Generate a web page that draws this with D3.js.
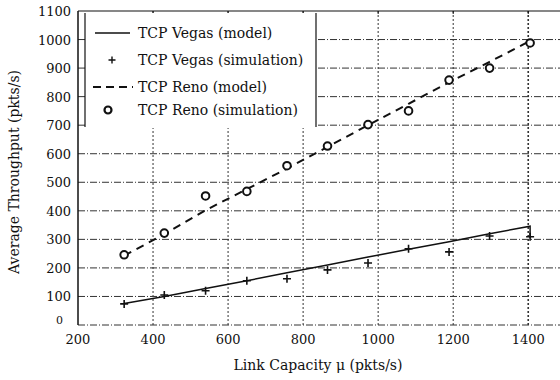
<!DOCTYPE html>
<html>
<head>
<meta charset="utf-8">
<script src="https://cdn.jsdelivr.net/npm/d3@7"></script>
<style>
  body { margin: 0; background: #fff; }
  svg text { font-family: "DejaVu Serif", "Liberation Serif", serif; fill: #111; }
</style>
</head>
<body>
<svg id="chart" width="560" height="380"></svg>
<script>
// link capacity (pkts/s) at each simulation point
const capacity = [323, 430, 540, 650, 757, 865, 973, 1081, 1189, 1297, 1405];
const vegasSim = [74, 105, 120, 155, 162, 193, 217, 267, 256, 312, 309];
const renoSim = [246, 322, 452, 468, 558, 627, 702, 750, 858, 900, 988];
// model curves (vegas drops back at the right end)
const vegasModelX = [323, 430, 540, 650, 757, 865, 973, 1081, 1189, 1297, 1405, 1405];
const vegasModelY = [75, 100, 128, 155, 183, 210, 238, 265, 292, 320, 346, 305];
const renoModel = [243, 318, 402, 476, 548, 624, 700, 775, 850, 922, 995];
const xTicks = [200, 400, 600, 800, 1000, 1200, 1400];
const yTicks = [0, 100, 200, 300, 400, 500, 600, 700, 800, 900, 1000, 1100];
const legendItems = ['TCP Vegas (model)', 'TCP Vegas (simulation)', 'TCP Reno (model)', 'TCP Reno (simulation)'];

const margin = { top: 11, right: 0, bottom: 54, left: 78 };
const svg = d3.select('#chart');

const x = d3.scaleLinear().domain([200, 1490]).range([margin.left, 562]);
const y = d3.scaleLinear().domain([0, 1100]).range([325, margin.top]);

// grid
const grid = svg.append('g').attr('stroke', '#333').attr('stroke-width', 1).attr('fill', 'none');
grid.selectAll('.hg').data(yTicks.slice(0, -1)).join('line')
  .attr('x1', x(200)).attr('x2', 560)
  .attr('y1', d => y(d)).attr('y2', d => y(d))
  .attr('stroke-dasharray', '7,2,1,2');
grid.selectAll('.vg').data(xTicks.slice(1)).join('line')
  .attr('x1', d => x(d)).attr('x2', d => x(d))
  .attr('y1', y(0)).attr('y2', y(1100))
  .attr('stroke-dasharray', '2,2')
  .attr('stroke-width', d => d === 1400 ? 1.6 : 1);

// frame: left axis and top line
svg.append('line').attr('x1', x(200)).attr('x2', x(200)).attr('y1', y(0)).attr('y2', y(1100))
  .attr('stroke', '#111').attr('stroke-width', 1.5);
svg.append('line').attr('x1', x(200)).attr('x2', 560).attr('y1', y(1100)).attr('y2', y(1100))
  .attr('stroke', '#111').attr('stroke-width', 1.2);
svg.selectAll('.tt').data(xTicks.slice(1)).join('line')
  .attr('x1', d => x(d)).attr('x2', d => x(d)).attr('y1', y(1100)).attr('y2', y(1100) + 3)
  .attr('stroke', '#111');

// tick labels
svg.selectAll('.yl').data(yTicks.filter(d => d > 0)).join('text')
  .attr('x', 71).attr('y', d => y(d) + 5)
  .attr('text-anchor', 'end').attr('font-size', 13)
  .text(d => d);
svg.append('text').attr('x', 56).attr('y', 324).attr('font-size', 11).text('0');
svg.selectAll('.xl').data(xTicks).join('text')
  .attr('x', d => x(d)).attr('y', 344)
  .attr('text-anchor', 'middle').attr('font-size', 13)
  .text(d => d);

// axis titles
svg.append('text').attr('x', 318).attr('y', 370).attr('text-anchor', 'middle')
  .attr('font-size', 14).text('Link Capacity \u03bc (pkts/s)');
svg.append('text').attr('transform', 'translate(19,172) rotate(-90)')
  .attr('text-anchor', 'middle').attr('font-size', 14).text('Average Throughput (pkts/s)');

// series
const line = d3.line().x(d => x(d[0])).y(d => y(d[1]));
svg.append('path')
  .datum(d3.zip(vegasModelX, vegasModelY))
  .attr('d', line).attr('fill', 'none').attr('stroke', '#111').attr('stroke-width', 1.5);
svg.append('path')
  .datum(d3.zip(capacity, renoModel))
  .attr('d', line).attr('fill', 'none').attr('stroke', '#111').attr('stroke-width', 2)
  .attr('stroke-dasharray', '8,6');

svg.selectAll('.vs').data(d3.zip(capacity, vegasSim)).join('path')
  .attr('d', 'M-4,0H4M0,-4V4')
  .attr('transform', d => `translate(${x(d[0])},${y(d[1])})`)
  .attr('stroke', '#111').attr('stroke-width', 1.6);
svg.selectAll('.rs').data(d3.zip(capacity, renoSim)).join('circle')
  .attr('cx', d => x(d[0])).attr('cy', d => y(d[1])).attr('r', 3.8)
  .attr('fill', '#fff').attr('stroke', '#111').attr('stroke-width', 2);

// legend
const lg = svg.append('g');
lg.append('rect').attr('x', 85).attr('y', 13).attr('width', 231).attr('height', 115).attr('fill', '#fff');
lg.append('line').attr('x1', 85).attr('x2', 85).attr('y1', 13).attr('y2', 127).attr('stroke', '#111').attr('stroke-width', 1.2);
lg.append('line').attr('x1', 316).attr('x2', 316).attr('y1', 13).attr('y2', 127).attr('stroke', '#111').attr('stroke-width', 1.2);
const rowY = [33, 60, 87, 110];
lg.selectAll('.lt').data(legendItems).join('text')
  .attr('x', 138).attr('y', (d, i) => rowY[i] + 5).attr('font-size', 14)
  .text(d => d);
lg.append('line').attr('x1', 95).attr('x2', 130).attr('y1', rowY[0]).attr('y2', rowY[0])
  .attr('stroke', '#111').attr('stroke-width', 1.5);
lg.append('path').attr('d', 'M-3.5,0H3.5M0,-3.5V3.5')
  .attr('transform', `translate(112,${rowY[1]})`).attr('stroke', '#111').attr('stroke-width', 1.4);
lg.append('line').attr('x1', 93).attr('x2', 133).attr('y1', rowY[2]).attr('y2', rowY[2])
  .attr('stroke', '#111').attr('stroke-width', 2.2).attr('stroke-dasharray', '8,5');
lg.append('circle').attr('cx', 108).attr('cy', rowY[3]).attr('r', 3.5)
  .attr('fill', '#fff').attr('stroke', '#111').attr('stroke-width', 2.2);
</script>
</body>
</html>
